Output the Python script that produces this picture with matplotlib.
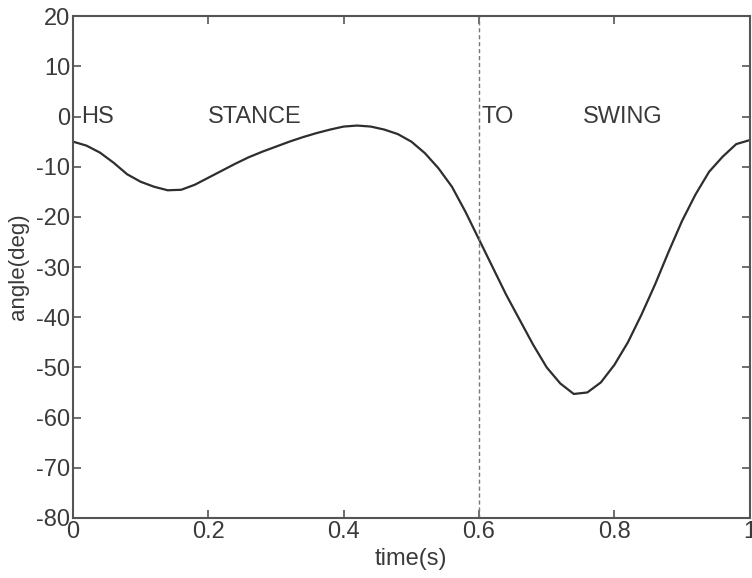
import matplotlib.pyplot as plt

plt.rcParams["font.family"] = ["Liberation Sans", "DejaVu Sans"]
plt.rcParams["axes.unicode_minus"] = False

# knee angle over one gait cycle, sampled every 0.02 s
time_s = [0.00, 0.02, 0.04, 0.06, 0.08, 0.10, 0.12, 0.14, 0.16, 0.18,
          0.20, 0.22, 0.24, 0.26, 0.28, 0.30, 0.32, 0.34, 0.36, 0.38,
          0.40, 0.42, 0.44, 0.46, 0.48, 0.50, 0.52, 0.54, 0.56, 0.58,
          0.60, 0.62, 0.64, 0.66, 0.68, 0.70, 0.72, 0.74, 0.76, 0.78,
          0.80, 0.82, 0.84, 0.86, 0.88, 0.90, 0.92, 0.94, 0.96, 0.98,
          1.00]
angle_deg = [-5.0, -5.8, -7.2, -9.2, -11.5, -13.0, -14.0, -14.7, -14.6, -13.6,
             -12.2, -10.8, -9.4, -8.1, -7.0, -6.0, -5.0, -4.1, -3.3, -2.6,
             -2.0, -1.8, -2.0, -2.6, -3.5, -5.0, -7.3, -10.3, -14.0, -19.0,
             -24.5, -30.0, -35.5, -40.5, -45.5, -50.0, -53.2, -55.3, -55.0, -53.0,
             -49.5, -45.0, -39.5, -33.5, -27.0, -20.8, -15.5, -11.0, -8.0, -5.5,
             -4.7]

toe_off = 0.6
phase_labels = ["HS", "STANCE", "TO", "SWING"]
phase_x = [0.012, 0.2, 0.603, 0.753]

x_ticks = [0, 0.2, 0.4, 0.6, 0.8, 1]
x_ticklabels = ["0", "0.2", "0.4", "0.6", "0.8", "1"]
y_ticks = list(range(-80, 21, 10))

fig = plt.figure(figsize=(7.52, 5.78), dpi=100)
ax = fig.add_axes([0.097, 0.104, 0.900, 0.868])

ink = "#3a3a3a"
ax.plot(time_s, angle_deg, color="#2e2e2e", linewidth=1.6)
ax.axvline(toe_off, color="#777777", linewidth=1.0, linestyle=(0, (3, 2)))

for label, xpos in zip(phase_labels, phase_x):
    ax.text(xpos, 0, label, ha="left", va="center", fontsize=17, color=ink)

ax.set_xlim(0, 1)
ax.set_ylim(-80, 20)
ax.set_xticks(x_ticks)
ax.set_xticklabels(x_ticklabels)
ax.set_yticks(y_ticks)
ax.tick_params(direction="in", length=6, width=1.2, colors="#555555",
               labelcolor=ink, labelsize=17, top=True, right=True, pad=2)
for spine in ax.spines.values():
    spine.set_color("#555555")
    spine.set_linewidth(1.5)

ax.set_xlabel("time(s)", fontsize=17, color=ink, labelpad=4)
ax.set_ylabel("angle(deg)", fontsize=16, color=ink, labelpad=5)

fig.savefig("out.png", dpi=100)
